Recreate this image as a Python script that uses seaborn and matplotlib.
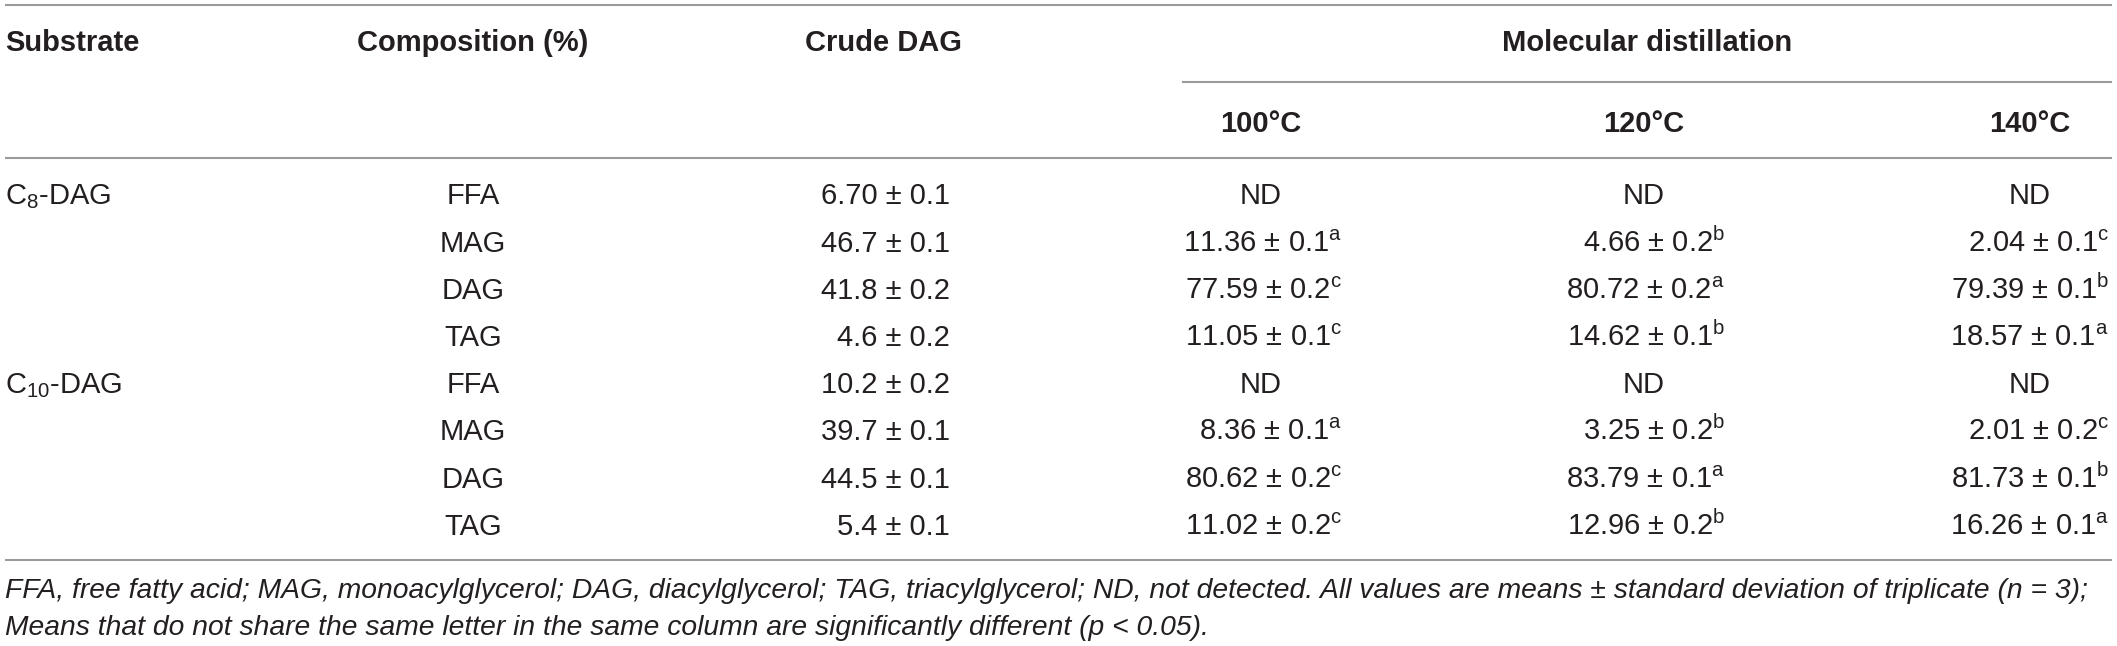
import matplotlib
matplotlib.use("Agg")
import matplotlib.pyplot as plt
import seaborn as sns
import pandas as pd

# table values
substrates = [r"C$_{\mathrm{8}}$-DAG", r"C$_{\mathrm{10}}$-DAG"]
components = ["FFA", "MAG", "DAG", "TAG"]

crude_mean = ["6.70", "46.7", "41.8", "4.6", "10.2", "39.7", "44.5", "5.4"]
crude_sd = ["0.1", "0.1", "0.2", "0.2", "0.2", "0.1", "0.1", "0.1"]

md100_mean = [None, "11.36", "77.59", "11.05", None, "8.36", "80.62", "11.02"]
md100_sd = [None, "0.1", "0.2", "0.1", None, "0.1", "0.2", "0.2"]
md100_letter = [None, "a", "c", "c", None, "a", "c", "c"]

md120_mean = [None, "4.66", "80.72", "14.62", None, "3.25", "83.79", "12.96"]
md120_sd = [None, "0.2", "0.2", "0.1", None, "0.2", "0.1", "0.2"]
md120_letter = [None, "b", "a", "b", None, "b", "a", "b"]

md140_mean = [None, "2.04", "79.39", "18.57", None, "2.01", "81.73", "16.26"]
md140_sd = [None, "0.1", "0.1", "0.1", None, "0.2", "0.1", "0.1"]
md140_letter = [None, "c", "b", "a", None, "c", "b", "a"]

temps = ["100°C", "120°C", "140°C"]

footnote_1 = ("FFA, free fatty acid; MAG, monoacylglycerol; DAG, diacylglycerol; "
              "TAG, triacylglycerol; ND, not detected. All values are means ± standard "
              "deviation of triplicate (n = 3);")
footnote_2 = ("Means that do not share the same letter in the same column are "
              "significantly different (p < 0.05).")


def fmt(mean, sd, letter=None):
    if mean is None:
        return "ND"
    s = f"{mean} ± {sd}"
    if letter:
        s += r"$^{\mathrm{" + letter + "}}$"
    return s


rows = pd.DataFrame({
    "substrate": [substrates[0], "", "", "", substrates[1], "", "", ""],
    "component": components * 2,
    "crude": [fmt(m, s) for m, s in zip(crude_mean, crude_sd)],
    "100": [fmt(*v) for v in zip(md100_mean, md100_sd, md100_letter)],
    "120": [fmt(*v) for v in zip(md120_mean, md120_sd, md120_letter)],
    "140": [fmt(*v) for v in zip(md140_mean, md140_sd, md140_letter)],
})

sns.set_theme(style="white")
plt.rcParams["font.family"] = ["Liberation Sans", "DejaVu Sans"]
plt.rcParams["mathtext.fontset"] = "custom"
plt.rcParams["mathtext.rm"] = "Liberation Sans"
plt.rcParams["mathtext.it"] = "Liberation Sans:italic"
plt.rcParams["mathtext.bf"] = "Liberation Sans:bold"

W, H = 2117, 646
fig = plt.figure(figsize=(W / 100, H / 100), dpi=100)
ax = fig.add_axes([0, 0, 1, 1])
ax.set_xlim(0, W)
ax.set_ylim(H, 0)
ax.axis("off")

txt = "#231f20"
rule = "#9a9a9a"
fs = 21
cap = 10  # half cap height in px, to go from visual centre to baseline

# rules
ax.hlines([5, 158, 560], 5, 2112, color=rule, lw=1.5)
ax.hlines(82, 1182, 2112, color=rule, lw=1.5)

# header
hdr = dict(fontsize=fs, fontweight="bold", color=txt, va="baseline")
ax.text(5, 41 + cap, "Substrate", ha="left", **hdr)
ax.text(473, 41 + cap, "Composition (%)", ha="center", **hdr)
ax.text(883, 41 + cap, "Crude DAG", ha="center", **hdr)
ax.text(1647, 41 + cap, "Molecular distillation", ha="center", **hdr)
temp_centres = [1261, 1644, 2030]
for t, xc in zip(temps, temp_centres):
    ax.text(xc, 122 + cap, t, ha="center", **hdr)

# body
body = dict(fontsize=fs, color=txt, va="baseline")
row_y = [194.5 + 47.2 * i for i in range(len(rows))]
right_edges = {"100": 1342, "120": 1725, "140": 2109}
for y, (_, r) in zip(row_y, rows.iterrows()):
    yb = y + cap
    if r["substrate"]:
        ax.text(5, yb, r["substrate"], ha="left", **body)
    ax.text(473, yb, r["component"], ha="center", **body)
    ax.text(950, yb, r["crude"], ha="right", **body)
    for col, xc in zip(["100", "120", "140"], temp_centres):
        if r[col] == "ND":
            ax.text(xc, yb, "ND", ha="center", **body)
        else:
            ax.text(right_edges[col], yb, r[col], ha="right", **body)

# footnote
foot = dict(fontsize=20.3, fontstyle="italic", color=txt, va="baseline", ha="left")
ax.text(5, 588 + 9.6, footnote_1, **foot)
ax.text(5, 625 + 9.6, footnote_2, **foot)

fig.savefig("out.png", dpi=100)
